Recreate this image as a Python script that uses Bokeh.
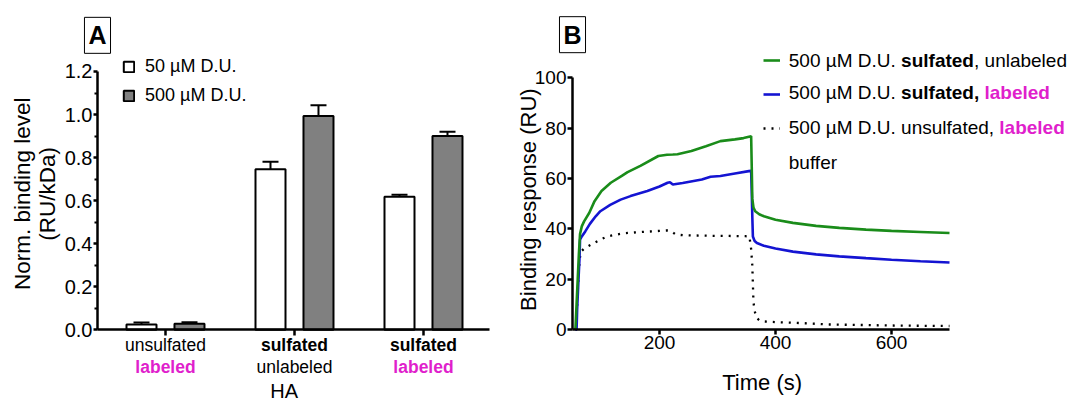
import math
from bokeh.plotting import figure
from bokeh.layouts import row
from bokeh.models import (Range1d, FixedTicker, Label, Legend,
                          LegendItem, PrintfTickFormatter, CustomJSTickFormatter)
from bokeh.embed import file_html
from bokeh.resources import INLINE

FONT = "Liberation Sans"
MAGENTA = "#e01fcc"
GREEN = "#1a8c1a"
BLUE = "#1414d2"
GREY = "#808080"

# ---------------- Panel A data ----------------
group_pos = [0.5, 1.5, 2.5]
cat_line1 = ["unsulfated", "sulfated", "sulfated"]
cat_line1_style = ["normal", "bold", "bold"]
cat_line2 = ["labeled", "unlabeled", "labeled"]
cat_line2_style = ["bold", "normal", "bold"]
cat_line2_color = [MAGENTA, "black", MAGENTA]
low_vals = [0.025, 0.746, 0.618]
low_err = [0.009, 0.035, 0.009]
high_vals = [0.028, 0.993, 0.900]
high_err = [0.007, 0.050, 0.020]
series_A = ["50 µM D.U.", "500 µM D.U."]
y_ticks_A = [0.0, 0.2, 0.4, 0.6, 0.8, 1.0, 1.2]
y_minor_A = [0.1, 0.3, 0.5, 0.7, 0.9, 1.1]
x_axis_label_A = "HA"
y_label_A = ["Norm. binding level", "(RU/kDa)"]

# ---------------- Panel B data ----------------
t_green = [55, 57, 59, 61, 63, 66, 70, 79, 88, 100, 116, 135, 145, 167, 198, 213, 223, 231,
           255, 280, 305, 330, 345, 356, 358, 359, 360, 362, 365, 372, 380, 400, 430, 470,
           510, 556, 600, 650, 700]
v_green = [0, 10, 20, 30, 38, 41, 43, 46.4, 51, 55, 58.3, 61, 62.5, 65, 68.9, 69.4, 69.5, 69.6,
           70.9, 72.8, 74.8, 75.5, 76, 76.6, 76.8, 65, 52, 48.5, 47, 45.8, 45, 43.6, 42.4, 41.2,
           40.4, 39.7, 39.2, 38.8, 38.4]
t_blue = [55, 57, 58, 60, 62, 63, 66, 72, 80, 90, 98, 115, 133, 150, 179, 200, 214, 218, 223,
          240, 273, 288, 305, 330, 354, 358, 359, 360, 361, 364, 368, 380, 400, 430, 470, 510,
          556, 600, 650, 700]
v_blue = [0, 0, 8, 18.4, 28, 35.7, 37, 39, 42, 45, 47, 49.5, 51.6, 53, 55, 56.8, 58.3, 58.5, 57.6,
          58.2, 59.6, 60.7, 61, 62, 62.9, 63, 55, 45, 37, 35.2, 34.4, 33.3, 32.2, 31, 29.9, 29.1,
          28.4, 27.8, 27.2, 26.7]
t_dot = [55, 57, 58, 60, 62, 64, 70, 84, 100, 110, 138, 170, 200, 213, 218, 228, 240, 280, 320,
         348, 355, 358, 360, 361, 362, 364, 367, 372, 380, 405, 450, 493, 550, 600, 650, 700]
v_dot = [0, 5, 10, 20, 27, 30.8, 32.2, 34, 36, 37, 38.3, 38.8, 39.2, 39.4, 39.3, 37.8, 37.5, 37.3,
         37.2, 37.1, 37, 32, 25.5, 18.2, 11, 7.6, 4.8, 3.8, 3.3, 3, 2.6, 2.1, 1.9, 1.7, 1.6, 1.5]
x_ticks_B = [200, 400, 600]
y_ticks_B = [0, 20, 40, 60, 80, 100]
x_label_B = "Time (s)"
y_label_B = "Binding response (RU)"


def lab(p, **kw):
    kw.setdefault("text_font", FONT)
    kw.setdefault("text_baseline", "middle")
    kw.setdefault("text_align", "center")
    kw.setdefault("text_color", "black")
    p.add_layout(Label(**kw))


def style_axis(ax, size):
    ax.axis_line_width = 2.5
    ax.major_tick_line_width = 2.5
    ax.minor_tick_line_width = 2
    ax.major_tick_in = 0
    ax.minor_tick_in = 0
    ax.major_label_text_font = FONT
    ax.major_label_text_font_size = size
    ax.major_label_text_color = "black"
    ax.major_label_standoff = 1


NOB = dict(min_border_left=0, min_border_right=0, min_border_top=0, min_border_bottom=0)

# ======================= Panel A =======================
# frame covers the whole canvas; axes are pinned inside it
A_X0, A_X1 = -0.0271, 3.0116
pA = figure(width=505, height=403, x_range=Range1d(-0.7790, 3.1357),
            y_range=Range1d(-0.3424, 1.5298), output_backend="svg", toolbar_location=None, **NOB)
pA.grid.visible = False
pA.outline_line_color = None

OFF = 0.186
BW = 0.2326
CAP = 0.124
xl = [g - OFF for g in group_pos]
xh = [g + OFF for g in group_pos]
rw = pA.vbar(x=xl, top=low_vals, width=BW, fill_color="white", line_color="black", line_width=2)
rg = pA.vbar(x=xh, top=high_vals, width=BW, fill_color=GREY, line_color="black", line_width=2)
for xs, vs, es in [(xl, low_vals, low_err), (xh, high_vals, high_err)]:
    tops = [v + e for v, e in zip(vs, es)]
    pA.segment(x0=xs, y0=vs, x1=xs, y1=tops, line_color="black", line_width=2)
    pA.segment(x0=[x - CAP / 2 for x in xs], y0=tops, x1=[x + CAP / 2 for x in xs], y1=tops,
               line_color="black", line_width=2)

ya = pA.yaxis[0]
ya.ticker = FixedTicker(ticks=y_ticks_A, minor_ticks=y_minor_A)
ya.formatter = PrintfTickFormatter(format="%.1f")
style_axis(ya, "20px")
ya.fixed_location = A_X0
ya.bounds = (0, 1.2)
ya.major_tick_out = 4
ya.minor_tick_out = 3
xa = pA.xaxis[0]
style_axis(xa, "10px")
xa.ticker = FixedTicker(ticks=group_pos, minor_ticks=[])
xa.formatter = CustomJSTickFormatter(code="return ''")
xa.fixed_location = 0
xa.bounds = (A_X0, A_X1)
xa.major_tick_out = 6

legA = Legend(items=[LegendItem(label=series_A[0], renderers=[rw]),
                     LegendItem(label=series_A[1], renderers=[rg])],
              location=(122, 297), orientation="vertical", padding=0, margin=0, spacing=8,
              glyph_width=13, glyph_height=13, label_height=13, label_standoff=10,
              label_text_font=FONT, label_text_font_size="18px", label_text_color="black",
              border_line_color=None, background_fill_alpha=0)
pA.add_layout(legA)

for i, g in enumerate(group_pos):
    lab(pA, x=g, y=-0.0728, text=cat_line1[i], text_font_size="17.5px",
        text_font_style=cat_line1_style[i])
    lab(pA, x=g, y=-0.1747, text=cat_line2[i], text_font_size="17.5px",
        text_font_style=cat_line2_style[i], text_color=cat_line2_color[i])
lab(pA, x=1.42, y=-0.2866, text=x_axis_label_A, text_font_size="20px")
lab(pA, x=-0.608, y=0.632, text=y_label_A[0], angle=math.pi / 2, text_font_size="22.5px")
lab(pA, x=-0.414, y=0.632, text=y_label_A[1], angle=math.pi / 2, text_font_size="22.5px")
lab(pA, x=A_X0, y=1.368, text="A", text_font_size="25px", text_font_style="bold",
    border_line_color="black", border_line_width=1, padding=4)

# ======================= Panel B =======================
pB = figure(width=567, height=403, x_range=Range1d(-65.52, 912.07), y_range=Range1d(-29.22, 130.55),
            output_backend="svg", toolbar_location=None, **NOB)
pB.grid.visible = False
pB.outline_line_color = None

r_dot = pB.line(t_dot, v_dot, line_color="black", line_width=2.3, line_dash="2 6")
r_blue = pB.line(t_blue, v_blue, line_color=BLUE, line_width=2.6)
r_green = pB.line(t_green, v_green, line_color=GREEN, line_width=2.6)
r_buf = pB.line(x=[], y=[], line_color="black", line_width=3.5)

yb = pB.yaxis[0]
yb.ticker = FixedTicker(ticks=y_ticks_B, minor_ticks=[])
yb.fixed_location = 50
yb.bounds = (0, 100)
xb = pB.xaxis[0]
xb.ticker = FixedTicker(ticks=x_ticks_B, minor_ticks=[])
xb.fixed_location = 0
xb.bounds = (50, 700)
for ax in (xb, yb):
    style_axis(ax, "19px")
    ax.major_tick_out = 5

legB = Legend(items=[LegendItem(label=" ", renderers=[r]) for r in (r_green, r_blue, r_dot, r_buf)],
              location=(257.7, 233), orientation="vertical", padding=0, margin=0, spacing=18,
              glyph_width=17, glyph_height=16, label_height=16, label_standoff=0,
              label_text_font=FONT, label_text_font_size="19px",
              border_line_color=None, background_fill_alpha=0)
pB.add_layout(legB)

rows_y = [106.7, 94.2, 80.3, 66.4]
X0 = 216.3  # text start offset from axis (px)
legend_segments = [
    # (row, text, px offset, style, color)
    (0, "500 µM D.U.", 0.0, "normal", "black"),
    (0, "sulfated", 112.3, "bold", "black"),
    (0, ", unlabeled", 185.2, "normal", "black"),
    (1, "500 µM D.U.", 0.0, "normal", "black"),
    (1, "sulfated,", 112.3, "bold", "black"),
    (1, "labeled", 195.7, "bold", MAGENTA),
    (2, "500 µM D.U. unsulfated,", 0.0, "normal", "black"),
    (2, "labeled", 210.5, "bold", MAGENTA),
    (3, "buffer", 0.0, "normal", "black"),
]
for r, txt, off, sty, col in legend_segments:
    lab(pB, x=50, y=rows_y[r], x_offset=X0 + off, text=txt, text_font_size="19px",
        text_font_style=sty, text_color=col, text_align="left")

lab(pB, x=377, y=-20.8, text=x_label_B, text_font_size="22px")
lab(pB, x=-25.9, y=51.6, text=y_label_B, angle=math.pi / 2, text_font_size="22px")
lab(pB, x=50, y=117, text="B", text_font_size="25px", text_font_style="bold",
    border_line_color="black", border_line_width=1, padding=4)

layout = row(pA, pB)
open("out.html", "w").write(file_html(layout, INLINE))
